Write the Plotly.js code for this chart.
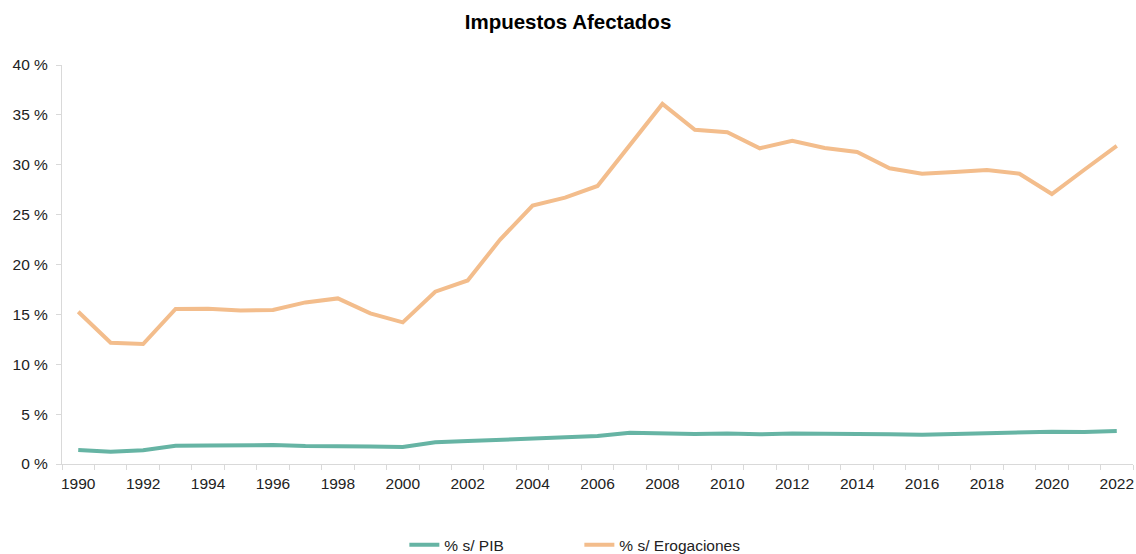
<!DOCTYPE html>
<html>
<head>
<meta charset="utf-8">
<script src="https://cdn.plot.ly/plotly-3.0.1.min.js"></script>
<style>html,body{margin:0;padding:0;background:#fff;}#chart{width:1136px;height:554px;}</style>
</head>
<body>
<div id="chart"></div>
<script>
const years = [1990,1991,1992,1993,1994,1995,1996,1997,1998,1999,2000,2001,2002,2003,2004,2005,2006,2007,2008,2009,2010,2011,2012,2013,2014,2015,2016,2017,2018,2019,2020,2021,2022];
const pibPct = [1.40,1.24,1.37,1.84,1.85,1.90,1.90,1.80,1.82,1.75,1.70,2.17,2.30,2.44,2.57,2.67,2.80,3.14,3.07,3.00,3.07,2.97,3.07,3.00,3.00,2.97,2.94,3.02,3.10,3.10,3.24,3.22,3.30];
const erogPct = [15.27,12.16,12.03,15.54,15.57,15.40,15.44,16.20,16.60,15.10,14.20,17.27,18.40,22.50,25.90,26.70,27.87,32.00,36.10,33.50,33.25,31.65,32.40,31.68,31.28,29.64,29.10,29.27,29.47,29.10,27.07,29.50,31.90];
const labelYears = [1990,1992,1994,1996,1998,2000,2002,2004,2006,2008,2010,2012,2014,2016,2018,2020,2022];
const yTicks = [0,5,10,15,20,25,30,35,40];
const seriesNames = ['% s/ PIB', '% s/ Erogaciones'];

const traces = [
  {x: years, y: pibPct, name: seriesNames[0], type: 'scatter', mode: 'lines',
   line: {color: '#66b4a4', width: 4}},
  {x: years, y: erogPct, name: seriesNames[1], type: 'scatter', mode: 'lines',
   line: {color: '#f3bd8c', width: 4}}
];

const layout = {
  width: 1136, height: 554,
  margin: {l: 62, r: 3, t: 65, b: 90},
  paper_bgcolor: '#fff', plot_bgcolor: '#fff',
  font: {family: 'Liberation Sans, Arial, sans-serif', size: 15.5, color: '#222'},
  title: {text: '<b>Impuestos Afectados</b>', x: 0.5, xanchor: 'center', y: 0.96, yanchor: 'middle',
          font: {size: 20.5, color: '#000', family: 'Liberation Sans, Arial, sans-serif'}},
  xaxis: {
    range: [years[0] - 0.5, years[years.length - 1] + 0.5],
    tickmode: 'array', tickvals: labelYears, ticktext: labelYears.map(String),
    ticks: '', showgrid: false, zeroline: false, ticklabelstandoff: 5,
    showline: true, linecolor: '#d9d9d9', linewidth: 1,
    tickfont: {size: 15.5, color: '#222'},
    minor: {tickmode: 'linear', tick0: years[0] - 0.5, dtick: 1, ticks: 'outside', ticklen: 5, tickcolor: '#d9d9d9', tickwidth: 1, showgrid: false}
  },
  yaxis: {
    range: [0, 40], tickmode: 'array', tickvals: yTicks, ticktext: yTicks.map(v => v + ' %'),
    ticks: 'outside', ticklen: 5, tickcolor: '#d9d9d9', tickwidth: 1, ticklabelstandoff: 5,
    showgrid: false, zeroline: false, showline: true, linecolor: '#d9d9d9', linewidth: 1,
    tickfont: {size: 15.5, color: '#222'}
  },
  showlegend: true,
  legend: {orientation: 'h', x: 0.51, xanchor: 'center', xref: 'container', yref: 'container', y: 0.016, yanchor: 'middle',
           font: {size: 15.5, color: '#222'}, traceorder: 'normal', entrywidth: 130}
};

Plotly.newPlot('chart', traces, layout, {displayModeBar: false, staticPlot: true});
</script>
</body>
</html>
